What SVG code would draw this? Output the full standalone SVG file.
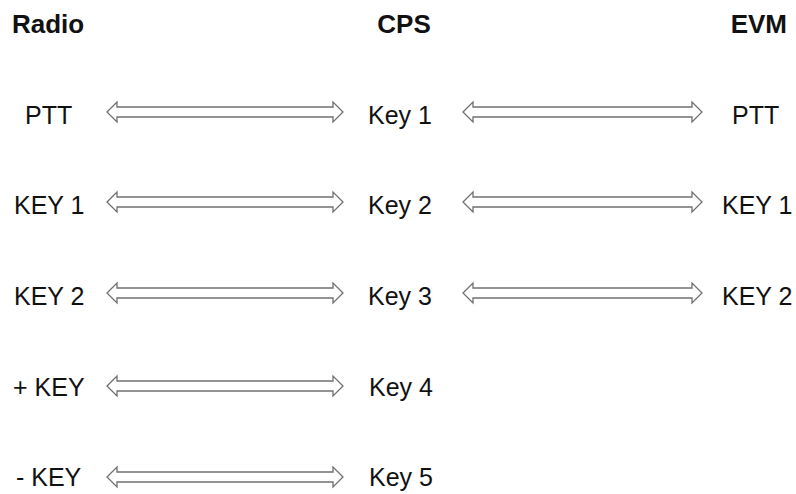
<svg xmlns="http://www.w3.org/2000/svg" width="796" height="494" viewBox="0 0 796 494">
<style>
.h{font-family:"Liberation Sans",Arial,sans-serif;font-weight:bold;font-size:26px;fill:#111}
.t{font-family:"Liberation Sans",Arial,sans-serif;font-size:25px;fill:#111}
.a{fill:#fff;stroke:#707070;stroke-width:1.3;stroke-linejoin:miter}
</style>
<defs>
<path id="arrL" d="M107,0 L117,-10 L117,-5 L333,-5 L333,-10 L343,0 L333,10 L333,5 L117,5 L117,10 Z"/>
<path id="arrR" d="M463,0 L473,-10 L473,-5 L692,-5 L692,-10 L702,0 L692,10 L692,5 L473,5 L473,10 Z"/>
</defs>
<rect width="796" height="494" fill="#fff"/>
<g id="headers">
<text class="h" x="12" y="33">Radio</text>
<text class="h" x="404" y="33" text-anchor="middle">CPS</text>
<text class="h" x="787" y="33" text-anchor="end">EVM</text>
</g>
<g id="radio">
<g id="radio-ptt"><text class="t" x="25" y="124">PTT</text></g>
<g id="radio-key1"><text class="t" x="14" y="214">KEY 1</text></g>
<g id="radio-key2"><text class="t" x="14" y="305">KEY 2</text></g>
<g id="radio-plus"><text class="t" x="13" y="396">+ KEY</text></g>
<g id="radio-minus"><text class="t" x="16" y="486">- KEY</text></g>
</g>
<g id="cps">
<g id="cps-key1"><text class="t" x="368" y="124">Key 1</text></g>
<g id="cps-key2"><text class="t" x="368" y="214">Key 2</text></g>
<g id="cps-key3"><text class="t" x="368" y="305">Key 3</text></g>
<g id="cps-key4"><text class="t" x="369" y="396">Key 4</text></g>
<g id="cps-key5"><text class="t" x="369" y="486">Key 5</text></g>
</g>
<g id="evm">
<g id="evm-ptt"><text class="t" x="732" y="124">PTT</text></g>
<g id="evm-key1"><text class="t" x="722" y="214">KEY 1</text></g>
<g id="evm-key2"><text class="t" x="722" y="305">KEY 2</text></g>
</g>
<g id="connectors">
<use href="#arrL" class="a" transform="translate(0,112)"/>
<use href="#arrL" class="a" transform="translate(0,202)"/>
<use href="#arrL" class="a" transform="translate(0,293)"/>
<use href="#arrL" class="a" transform="translate(0,386)"/>
<use href="#arrL" class="a" transform="translate(0,477)"/>
<use href="#arrR" class="a" transform="translate(0,112)"/>
<use href="#arrR" class="a" transform="translate(0,202)"/>
<use href="#arrR" class="a" transform="translate(0,293)"/>
</g>
</svg>
